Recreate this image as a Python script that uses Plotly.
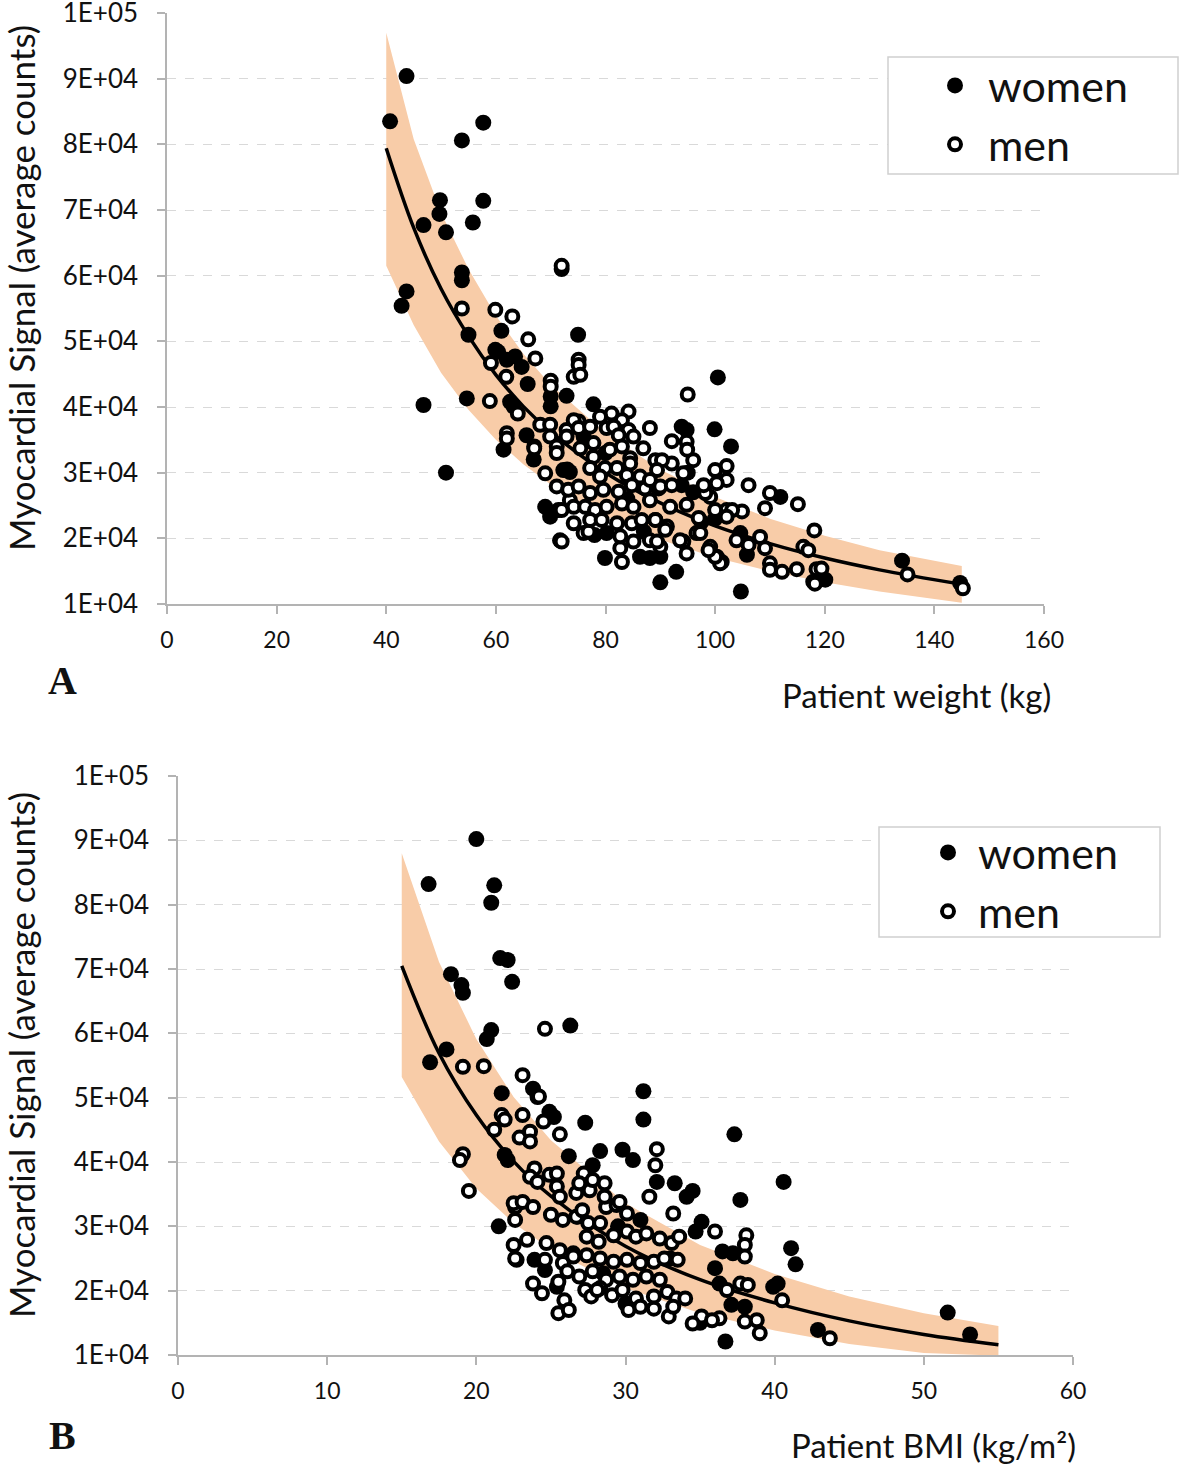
import plotly.graph_objects as go

# ---------------- Panel A: weight ----------------
fitA_x = [40, 45, 50, 55, 60, 65, 70, 80, 90, 100, 110, 120, 130, 145]
fitA_y = [79400, 67300, 58000, 50800, 44900, 40100, 36200, 30000, 25400, 21900, 19200, 17000, 15200, 13000]
bandA_upper = [97000, 80800, 69600, 61000, 53900, 48100, 43400, 36000, 30500, 26300, 23000, 20400, 18200, 15800]
bandA_lower = [61500, 52500, 45200, 39600, 35000, 31300, 28200, 23400, 19800, 17100, 15000, 13300, 11900, 10200]

womenA_x = [40.7, 43.7, 42.8, 43.7, 53.8, 57.7, 49.8, 57.7, 49.7, 46.8, 50.9, 55.8, 53.8, 53.8, 55.0, 61.0,
            75.0, 46.8, 50.9, 54.7, 59.9, 62.0, 63.5, 64.7, 65.8, 70.0, 70.0, 72.9, 62.6, 63.2, 77.8, 65.6,
            61.4, 66.9, 72.3, 73.5, 69.0, 69.9, 79.9, 86.3, 88.1, 90.0, 90.0, 92.9, 104.7, 120.1, 100.5, 99.9,
            102.9, 93.9, 94.8, 93.9, 111.9, 104.6, 105.8, 134.1, 144.7, 73.0, 76.0, 80.0, 84.0, 87.0, 78.0,
            67.0, 95.0, 96.0, 97.5, 100.0, 60.4, 80.2]
womenA_y = [83500, 90400, 55400, 57600, 80600, 83300, 71500, 71400, 69400, 67700, 66600, 68100, 60500, 59300,
            51000, 51600, 51000, 40300, 30000, 41300, 48700, 47200, 47700, 46100, 43500, 41600, 40100, 41700,
            40800, 40100, 40400, 35700, 33500, 32000, 30400, 30100, 24800, 23300, 17000, 17200, 17000, 17200,
            13300, 14900, 11900, 13700, 44500, 36600, 34000, 37000, 36500, 28100, 26300, 20800, 17500, 16600,
            13200, 30500, 35500, 33000, 26000, 21000, 20500, 34000, 30000, 27000, 22500, 23000, 48400, 20800]

menA_x = [72.0, 72.0, 53.8, 59.9, 63.0, 65.9, 58.9, 59.1, 67.2, 75.1, 75.1, 74.2, 75.4, 61.9, 70.0, 70.0,
          64.0, 68.1, 69.9, 72.9, 75.1, 62.0, 62.0, 67.0, 69.0, 71.1, 71.4, 73.5, 71.7, 76.0, 76.9,
          84.2, 81.1, 79.0, 83.0, 74.2, 75.1, 77.2, 80.2, 81.5, 84.2, 82.4, 85.1, 69.9, 72.9, 71.1, 71.1,
          75.4, 77.8, 77.8, 80.8, 83.0, 84.5, 86.9, 77.2, 79.9, 82.1, 84.5, 79.0, 83.9, 86.3, 89.1, 73.2,
          75.1, 77.2, 79.6, 82.4, 84.8, 87.2, 89.7, 72.0, 74.2, 76.3, 78.1, 80.2, 83.0, 85.1, 88.1, 74.2,
          77.2, 79.3, 82.1, 84.8, 86.6, 89.1, 91.2, 72.0, 83.0, 82.7, 82.7, 85.1, 88.1, 90.0,
          95.0, 88.1, 92.1, 94.8, 96.0, 106.1, 110.0, 115.1, 118.1, 116.1, 117.0, 110.0, 110.0, 112.2,
          114.9, 118.5, 119.4, 117.9, 94.2, 94.8, 96.6, 99.1, 100.3, 101.2, 103.9, 106.1, 108.2, 109.1,
          102.1, 104.9, 100.0, 99.1, 102.1, 102.1, 100.0, 100.3, 98.2, 97.9, 94.8, 97.0, 97.3, 93.6, 92.1,
          90.3, 89.4, 88.1, 90.0, 92.1, 91.8, 89.1, 90.9, 89.4, 94.9, 94.2, 109.1, 103.1, 102.1, 100.9,
          100.0, 98.8, 135.1, 145.2, 118.2]
menA_y = [61000, 61500, 55000, 54800, 53800, 50300, 40900, 46700, 47400, 47200, 46400, 44600, 44900, 44600,
          44000, 43100, 39000, 37300, 37300, 36500, 37800, 36000, 35200, 33700, 29900, 27900, 24300, 25800,
          19700, 20800, 21000,
          39300, 39000, 38500, 38000, 38000, 36800, 37000, 36800, 37000, 36500, 35700, 35500, 35500, 35500,
          34000, 33000, 33700, 34500, 32400, 33500, 34000, 32200, 33700, 30700, 30700, 30700, 31400, 29400,
          29600, 29400, 31900, 27400, 27900, 26900, 27400, 27100, 28100, 27600, 27600, 24300, 24800, 24800,
          24300, 24800, 25300, 24800, 25800, 22300, 22800, 22800, 22300, 22300, 22800, 22800, 21800, 19500,
          16400, 18500, 20300, 19500, 19700, 18700,
          41900, 36800, 34800, 34700, 31900, 28100, 26900, 25200, 21200, 18700, 18200, 16200, 15200, 14900,
          15300, 15300, 15400, 13400, 19500, 17700, 20800, 18700, 17200, 16400, 19700, 19000, 20200, 18500,
          24300, 24100, 24300, 26300, 31000, 28900, 30400, 28400, 26900, 28100, 25100, 23100, 20800, 19700,
          31400, 31900, 30400, 28900, 27900, 28100, 24800, 22800, 21300, 19500, 33500, 29900, 24600, 24300,
          23300, 16200, 17200, 18200, 14500, 12400, 13100]

# ---------------- Panel B: BMI ----------------
fitB_x = [15, 17.5, 20, 22.5, 25, 30, 35, 40, 45, 50, 55]
fitB_y = [70500, 56900, 47300, 40100, 34700, 26900, 21700, 18100, 15300, 13200, 11600]
bandB_upper = [88000, 71100, 59100, 50100, 43400, 33600, 27100, 22600, 19100, 16500, 14500]
bandB_lower = [53200, 43200, 35900, 30500, 26400, 20400, 16500, 13800, 11700, 10300, 9900]

womenB_x = [20.0, 16.8, 21.2, 21.0, 21.6, 22.1, 22.4, 18.3, 19.0, 19.1, 21.0, 20.7, 26.3, 16.9, 18.0, 21.7,
            23.8, 24.1, 31.2, 31.2, 27.3, 37.3, 24.9, 25.2, 21.9, 22.1, 26.2, 28.3, 27.8, 29.8, 30.5, 33.3,
            32.1, 40.6, 37.7, 34.1, 35.1, 34.7, 36.5, 37.2, 41.1, 41.4, 36.0, 36.3, 39.9, 40.2, 37.1, 38.0,
            36.7, 42.9, 51.6, 53.1, 21.5, 25.4, 23.9, 24.6, 26.8, 29.5, 31.0, 33.0, 34.5, 28.5, 30.0, 35.0]
womenB_y = [90200, 83200, 83000, 80300, 71700, 71400, 68000, 69200, 67500, 66300, 60500, 59100, 61200, 55500,
            57500, 50700, 51400, 50100, 51000, 46600, 46100, 44300, 47800, 47000, 41100, 40300, 40900, 41700,
            39500, 41900, 40300, 36700, 36900, 36900, 34100, 34600, 30700, 29200, 26100, 25800, 26600, 24100,
            23500, 21100, 20600, 21100, 17800, 17500, 12100, 13900, 16600, 13200, 30000, 20600, 24800, 23200,
            31500, 30000, 31000, 25000, 35500, 22700, 18000, 15000]

menB_x = [24.6, 19.1, 20.5, 23.1, 24.2, 21.7, 21.9, 21.2, 23.1, 24.5, 25.6, 22.9, 23.6, 23.6, 19.1, 18.9,
          19.5, 32.1, 32.0, 33.2, 31.6, 36.0, 38.1, 38.0, 38.0, 37.7, 38.2, 36.8, 40.5, 38.0, 38.8, 39.0,
          35.1, 36.3, 35.8, 34.5, 43.7,
          22.7, 22.6, 22.6, 23.4, 22.5, 23.1, 23.8, 23.9, 23.6, 24.1, 24.9, 25.4, 25.4, 23.8, 24.4, 25.5,
          25.5, 25.9, 24.7, 24.6, 25.6, 25.8, 26.5, 25.0, 25.8, 26.7, 27.1, 27.5, 28.3, 28.7, 29.4, 30.1,
          25.6, 26.7, 27.6, 28.6, 29.6, 27.2, 27.8, 28.6, 26.9, 27.4, 28.2, 29.2, 30.1, 30.7, 31.4, 32.3,
          33.1, 33.6, 26.5, 27.4, 28.3, 29.2, 30.1, 31.0, 31.9, 32.6, 33.5, 26.1, 26.9, 27.8, 28.7, 29.6,
          30.5, 31.4, 32.3, 28.3, 29.1, 29.8, 30.7, 31.9, 32.8, 33.4, 34.0, 30.2, 31.0, 31.9, 32.9, 33.2,
          27.3, 27.7, 28.1, 22.5, 22.6, 26.2]
menB_y = [60700, 54800, 54900, 53500, 50200, 47300, 46600, 45000, 47300, 46300, 44300, 43800, 44700, 43200,
          41200, 40300, 35500, 42000, 39500, 32000, 34600, 29200, 28600, 27100, 25300, 21100, 20900, 20100,
          18500, 15200, 15400, 13400, 16000, 15700, 15400, 14900, 12600,
          24800, 31000, 33000, 27900, 33600, 33800, 33000, 39000, 37700, 36900, 38000, 38200, 36200, 21100,
          19600, 21400, 16500, 18500, 27400, 24800, 26300, 24300, 25800, 31800, 31000, 31500, 32500, 30500,
          30500, 33000, 33300, 32000, 34600, 35200, 35600, 34600, 33800, 38200, 37200, 36700, 36700, 28400,
          27600, 28600, 29200, 28400, 28900, 28100, 27400, 28400, 25300, 25500, 25000, 24500, 24800, 24300,
          24500, 25000, 24800, 23000, 22200, 23000, 21700, 22200, 21700, 22200, 21700, 20400, 19300, 20100,
          18800, 19100, 19800, 18800, 18800, 17000, 17500, 17200, 16000, 17500, 20100, 19100, 20100, 27100,
          25000, 17000]

y_ticks = [10000, 20000, 30000, 40000, 50000, 60000, 70000, 80000, 90000, 100000]
y_ticktext = ["1E+04", "2E+04", "3E+04", "4E+04", "5E+04", "6E+04", "7E+04", "8E+04", "9E+04", "1E+05"]
xA_ticks = [0, 20, 40, 60, 80, 100, 120, 140, 160]
xB_ticks = [0, 10, 20, 30, 40, 50, 60]

FONT = "Lato, 'Open Sans', sans-serif"
BAND = "#F8CCA8"
W, H = 1180, 1470

fig = go.Figure()


def add_panel(fx, fy, up, lo, wx, wy, mx, my, xa, ya, legend):
    fig.add_trace(go.Scatter(x=fx + fx[::-1], y=up + lo[::-1], fill="toself", fillcolor=BAND,
                             line=dict(width=0), mode="lines", showlegend=False, hoverinfo="skip",
                             xaxis=xa, yaxis=ya))
    fig.add_trace(go.Scatter(x=fx, y=fy, mode="lines", line=dict(color="black", width=3.5, shape="spline"),
                             showlegend=False, xaxis=xa, yaxis=ya))
    fig.add_trace(go.Scatter(x=wx, y=wy, mode="markers", name="women", legend=legend, legendgroup="w" + legend,
                             marker=dict(color="black", size=16, line=dict(width=0)), xaxis=xa, yaxis=ya))
    fig.add_trace(go.Scatter(x=mx, y=my, mode="markers", name="men", legend=legend, legendgroup="m" + legend,
                             marker=dict(color="white", size=12, line=dict(color="black", width=4)),
                             xaxis=xa, yaxis=ya))


add_panel(fitA_x, fitA_y, bandA_upper, bandA_lower, womenA_x, womenA_y, menA_x, menA_y, "x", "y", "legend")
add_panel(fitB_x, fitB_y, bandB_upper, bandB_lower, womenB_x, womenB_y, menB_x, menB_y, "x2", "y2", "legend2")

axis_common = dict(showline=True, linecolor="#b3b3b3", linewidth=1.5, ticks="outside", tickcolor="#b3b3b3",
                   ticklen=8, tickwidth=1.5, zeroline=False, automargin=False, ticklabeloverflow="allow",
                   tickfont=dict(family=FONT, size=23, color="#111"), ticklabelstandoff=7)
yaxis_common = dict(axis_common, range=[10000, 100000], tickvals=y_ticks, ticktext=y_ticktext,
                    showgrid=True, gridcolor="#d9d9d9", griddash="dash", gridwidth=1,
                    tickfont=dict(family=FONT, size=26, color="#111"), ticklabelstandoff=14)

legend_common = dict(xanchor="left", yanchor="top", bgcolor="rgba(0,0,0,0)", borderwidth=0,
                     font=dict(family=FONT, size=43, color="#111"), traceorder="grouped", tracegroupgap=0)

fig.update_layout(
    width=W, height=H, paper_bgcolor="white", plot_bgcolor="white",
    margin=dict(l=0, r=0, t=0, b=0, autoexpand=False),
    xaxis=dict(axis_common, domain=[167 / W, 1044 / W], range=[0, 160], tickvals=xA_ticks, showgrid=False,
               anchor="y"),
    yaxis=dict(yaxis_common, domain=[1 - 604 / H, 1 - 13 / H], anchor="x"),
    xaxis2=dict(axis_common, domain=[178 / W, 1073 / W], range=[0, 60], tickvals=xB_ticks, showgrid=False,
                anchor="y2"),
    yaxis2=dict(yaxis_common, domain=[1 - 1355 / H, 1 - 776 / H], anchor="x2"),
    legend=dict(legend_common, x=922 / W, y=1 - 51 / H, itemwidth=56),
    legend2=dict(legend_common, x=918 / W, y=1 - 818 / H, itemwidth=50),
    font=dict(family=FONT, color="#111"),
)

# legend frames
for (x0, y0, x1, y1) in [(888, 57, 1178, 174), (879, 827, 1160, 937)]:
    fig.add_shape(type="rect", xref="paper", yref="paper", x0=x0 / W, x1=x1 / W, y0=1 - y1 / H, y1=1 - y0 / H,
                  line=dict(color="#d0d0d0", width=1.5), fillcolor="white", layer="above")

ann = [
    dict(text="Myocardial Signal (average counts)", x=21 / W, y=1 - 288 / H, textangle=-90, font_size=35),
    dict(text="Myocardial Signal (average counts)", x=21 / W, y=1 - 1055 / H, textangle=-90, font_size=35),
    dict(text="Patient weight (kg)", x=1053 / W, y=1 - 695 / H, xanchor="right", font_size=33),
    dict(text="Patient BMI (kg/m²)", x=1078 / W, y=1 - 1445 / H, xanchor="right", font_size=33),
    dict(text="<b>A</b>", x=62 / W, y=1 - 680 / H, font=dict(family="'Liberation Serif', serif", size=40)),
    dict(text="<b>B</b>", x=62 / W, y=1 - 1435 / H, font=dict(family="'Liberation Serif', serif", size=40)),
]
for a in ann:
    a.setdefault("xanchor", "center")
    fig.add_annotation(xref="paper", yref="paper", yanchor="middle", showarrow=False, **a)

fig.write_html("out.html", config={"displayModeBar": False},
               post_script="document.body.style.margin='0';document.body.style.overflow='hidden';")
